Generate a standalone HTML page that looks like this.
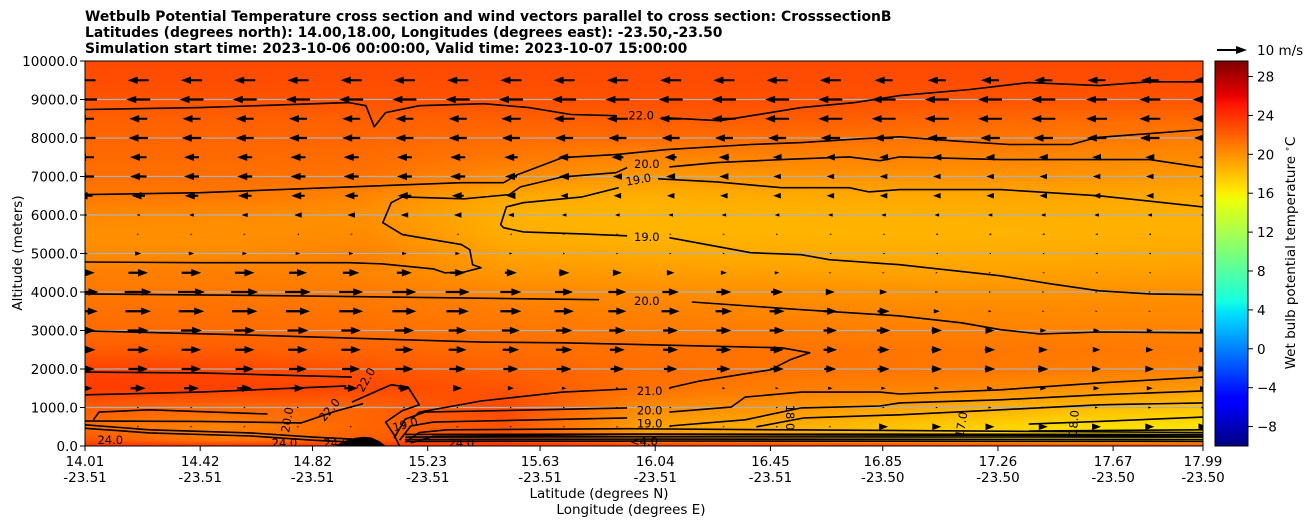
<!DOCTYPE html>
<html><head><meta charset="utf-8"><style>
html,body{margin:0;padding:0;background:#fff;}
#wrap{position:relative;width:1311px;height:526px;overflow:hidden;font-family:"DejaVu Sans","Liberation Sans",sans-serif;}
#field{position:absolute;left:85px;top:61px;}
#cbar{position:absolute;left:1215px;top:61px;}
svg{position:absolute;left:0;top:0;font-family:"DejaVu Sans","Liberation Sans",sans-serif;}
</style></head><body>
<div id="wrap">
<canvas id="field" width="1118" height="385"></canvas>
<canvas id="cbar" width="33" height="385"></canvas>
<svg id="svg" width="1311" height="526" xmlns="http://www.w3.org/2000/svg">
<defs><clipPath id="plotclip"><rect x="85" y="61" width="1118" height="385"/></clipPath></defs>
<g font-weight="bold" font-size="13.9" fill="#000">
<text x="85" y="21">Wetbulb Potential Temperature cross section and wind vectors parallel to cross section: CrosssectionB</text>
<text x="85" y="37">Latitudes (degrees north): 14.00,18.00, Longitudes (degrees east): -23.50,-23.50</text>
<text x="85" y="53">Simulation start time: 2023-10-06 00:00:00, Valid time: 2023-10-07 15:00:00</text>
</g>
<g id="grid"></g>
<g id="contours" clip-path="url(#plotclip)"></g>
<g id="arrows" clip-path="url(#plotclip)"></g>
<rect x="85" y="61" width="1118" height="385" fill="none" stroke="#000" stroke-width="1"/>
<g id="axes" font-size="13.5" fill="#000"></g>
<text x="599" y="498" font-size="13.5" text-anchor="middle">Latitude (degrees N)</text>
<text x="631" y="514" font-size="13.5" text-anchor="middle">Longitude (degrees E)</text>
<text transform="translate(22,253) rotate(-90)" font-size="13.5" text-anchor="middle">Altitude (meters)</text>
<rect x="1215" y="61" width="33" height="385" fill="none" stroke="#000" stroke-width="1"/>
<g id="cbticks" font-size="13.5"></g>
<text transform="translate(1295,253) rotate(-90)" font-size="13.5" text-anchor="middle">Wet bulb potential temperature <tspan dy="-5" font-size="9">∘</tspan><tspan dy="5">C</tspan></text>
<g>
<polygon points="1217,49 1236,49 1236,46 1247,50 1236,54 1236,51 1217,51" fill="#000"/>
<text x="1257" y="55" font-size="13.5">10 m/s</text>
</g>
</svg>
</div>
<script>
// ---- data ----
const fieldLats = [14.0,14.5,15.0,15.5,16.0,16.5,17.0,17.5,18.0];
const fieldAlts = [0,150,500,1000,1500,2000,2500,3000,3500,4000,4500,5000,5500,6000,6500,7000,7500,8000,8500,9000,9500,10000];
const fieldT = [
[24,24,24,24,24,24,24,24,24],
[22.5,21,22,23,20,19.5,18,17,16.8],
[21.4,20.5,21.8,22.6,19.2,18.7,17.6,16.8,16.5],
[22.2,21.6,21.8,23.0,20.2,19.8,19.0,18.3,17.8],
[23.5,23.3,23.0,22.5,21.3,20.8,20.5,20.0,19.6],
[23.3,23.0,22.5,21.9,21.4,21.2,21.1,20.9,20.6],
[22.2,22.1,21.8,21.5,21.3,21.2,21.1,21.0,20.9],
[21.6,21.6,21.4,21.1,20.9,20.8,20.7,20.6,20.6],
[21.3,21.3,21.1,20.8,20.6,20.4,20.3,20.3,20.3],
[21.0,21.0,20.9,20.4,20.1,20.0,19.9,19.9,20.0],
[20.7,20.7,20.5,19.7,19.5,19.3,19.2,19.3,19.4],
[20.2,20.2,20.6,19.2,18.9,18.8,18.8,18.9,19.0],
[20.0,20.0,20.2,18.8,18.5,18.5,18.5,18.6,18.7],
[20.3,20.2,20.0,18.6,18.4,18.5,18.6,18.7,18.6],
[21.0,21.0,20.5,19.0,18.7,18.9,19.0,19.1,19.0],
[21.4,21.4,21.2,20.2,19.6,19.8,19.9,19.8,19.6],
[21.6,21.6,21.5,21.0,20.4,20.5,20.6,20.4,20.2],
[21.8,21.8,21.8,21.5,21.5,21.4,21.2,21.0,20.8],
[22.0,22.0,22.0,22.0,22.2,22.2,21.8,21.6,21.6],
[22.5,22.5,22.6,22.6,22.7,22.7,22.6,22.5,22.5],
[22.8,22.8,22.8,22.8,22.8,22.8,22.8,22.8,22.8],
[22.9,22.9,22.9,22.9,22.9,22.9,22.9,22.9,22.9]];
const windAlts = [500,1000,1500,2000,2500,3000,3500,4000,4500,5000,5500,6000,6500,7000,7500,8000,8500,9000,9500];
const windU = [
[0.3,0.3,0.3,0.3,0.3,0.3,0.3,0.3,0.3,0.3,0.3,0.3,0.3,0.3,0.3,3,3,3,3,3,3,3],
[0.5,0.5,0.5,0.5,0.5,0.5,0.5,0.5,0.3,0.3,0.3,0.3,0.3,0.3,0.5,0.5,0.5,1,1,1,1,1],
[5,5,5,5,4.5,4.5,4,3,2,1.5,1,1,1,1,1.5,1.5,1.5,2,2,2,2,2],
[6.5,6.5,6.5,6,6,6,6,5.5,5,5,4.5,4.5,4.5,4.5,4,4,3.5,3.5,3.5,3,3,3],
[7,7,6.5,6.5,6.5,6.5,6,6,5.5,5.5,5,5,5,4.5,4.5,4,3.5,3.5,3,2.5,2.5,2.5],
[7,7,7,7,7,6.5,6.5,6,6,5.5,5.5,5,5,5,4.5,4.5,3.5,3,2,2,2,2],
[8.5,8.5,8.5,8.5,8,8,8,7.5,7,6.5,6,6,5.5,5,4.5,4,2,1,0.5,0.5,0.5,0.5],
[9,9,9,9,8.5,8,8,8,7,6,6,5.5,5,4,3,2.5,1,0.5,0.5,0.3,0.3,0.3],
[6.5,6.5,6.5,6.5,6,5.5,5,5,4,3.5,3,2.5,2,1.5,0.5,0.5,0.3,0.3,-0.3,-0.3,-0.3,-0.3],
[2,2,1.8,1.5,1.5,1.5,1.5,1.5,1,0.5,0.5,0.3,0.3,0.3,-0.3,-0.3,-0.3,-0.5,-0.5,-0.8,-0.8,-0.8],
[0.5,0.5,0.3,0,-0.3,-0.3,-0.3,-0.3,-0.3,0.2,0.2,0.2,0.2,0.2,-0.3,-0.5,-0.8,-0.8,-0.8,-0.8,-0.8,-0.8],
[-1,-1,-1.5,-2,-2.5,-2.5,-2.5,-2.5,-2,-1.5,-1.5,-1.5,-1.5,-1.5,-1.5,-1.5,-1.5,-1.5,-1.5,-1.5,-1.5,-1.5],
[-5,-4.5,-4.5,-4.5,-4.5,-4.5,-4.5,-4,-3,-2.5,-2.5,-2.5,-2.5,-2.5,-2.5,-2.5,-2.5,-2.5,-2.5,-2.5,-2.5,-2.5],
[-6,-5.5,-5,-5,-5,-5,-5,-5,-4,-3.5,-3,-3,-3,-2.5,-2.5,-2.5,-2.5,-2.5,-2.5,-2.5,-2.5,-2.5],
[-6,-5.5,-5,-5,-5,-5,-5,-5,-4.5,-4,-4,-4,-3.5,-3,-3,-3,-3,-3,-3,-3,-3,-3],
[-7,-6.5,-6.5,-6,-6,-6,-6,-6,-6,-6,-6,-6,-6,-6,-6.5,-6.5,-6.5,-6.5,-6.5,-6.5,-6.5,-6],
[-6,-6,-6,-6,-6,-6,-6,-6,-6.5,-7,-7,-7.5,-8,-8,-8,-8,-8,-8,-8,-7,-7,-7],
[-8,-8,-8,-8,-8,-8,-8,-8,-8,-8,-8,-8,-8,-8,-8,-8,-8,-8,-8,-7,-7,-7],
[-7,-7,-7,-7,-7,-7,-7,-7,-7,-7,-7,-7,-7,-7,-7,-6,-6,-6,-6,-6,-6,-6]];
const contourLines = [
[[14.01,8740],[14.42,8790],[14.95,8920],[15.01,8840],[15.04,8290],[15.08,8660],[15.20,8840],[15.43,8890],[15.59,8790],[15.74,8610],[15.90,8580]],
[[16.06,8530],[16.27,8450],[16.56,8790],[16.75,8920],[16.91,9100],[17.16,9260],[17.37,9440],[17.62,9360],[17.80,9460],[17.99,9460]],
[[14.01,6530],[14.42,6580],[14.95,6730],[15.35,6840],[15.50,6840],[15.55,7050],[15.71,7490],[15.90,7570],[16.08,7700],[16.38,7830],[16.56,7880],[16.77,7980],[16.91,8030],[17.09,7930],[17.30,7830],[17.52,7830],[17.61,8010],[17.99,8220]],
[[14.01,4780],[14.42,4760],[14.95,4760],[15.07,4730],[15.25,4600],[15.29,4500],[15.36,4520],[15.42,4630],[15.39,4710],[15.38,5100],[15.35,5230],[15.14,5490],[15.07,5800],[15.10,6320],[15.14,6470],[15.36,6420],[15.52,6530],[15.56,6730],[15.71,6990],[15.90,7100],[15.94,7230]],
[[16.09,7250],[16.26,7360],[16.49,7440],[16.73,7510],[16.84,7410],[16.91,7510],[17.27,7440],[17.62,7440],[17.80,7440],[17.99,7230]],
[[15.91,6710],[15.78,6470],[15.57,6320],[15.51,6210],[15.49,5750],[15.50,5670],[15.57,5560],[15.78,5510],[15.94,5460]],
[[16.05,6940],[16.26,6860],[16.49,6710],[16.73,6710],[16.80,6600],[16.91,6660],[17.27,6660],[17.62,6500],[17.99,6210]],
[[16.09,5410],[16.38,5020],[16.56,4970],[16.66,4840],[16.91,4710],[17.27,4420],[17.45,4210],[17.62,4030],[17.80,3950],[17.99,3930]],
[[14.01,3950],[14.78,3900],[15.84,3800]],
[[16.17,3740],[16.56,3540],[16.91,3380],[17.13,3200],[17.27,3020],[17.41,2910],[17.62,2960],[17.99,2940]],
[[14.01,2990],[14.55,2890],[15.42,2700],[15.71,2680],[16.20,2600],[16.49,2550],[16.59,2420],[16.52,2240],[16.45,1980],[16.20,1690],[16.09,1510]],
[[15.94,1480],[15.71,1400],[15.42,1170],[15.20,880],[15.17,680]],
[[15.11,200],[15.15,700],[15.22,880],[15.42,910],[15.94,990]],
[[16.09,880],[16.31,1010],[16.36,1270],[16.56,1400],[16.84,1400],[16.91,1350],[17.27,1460],[17.62,1640],[17.99,1790]],
[[15.13,150],[15.17,520],[15.25,620],[15.42,650],[15.94,730]],
[[16.09,520],[16.36,680],[16.56,990],[16.84,1040],[16.91,1120],[17.27,1200],[17.62,1330],[17.99,1430]],
[[16.40,500],[16.57,730],[16.91,810],[17.27,940],[17.62,1070],[17.99,1120]],
[[17.37,570],[17.62,640],[17.99,750]],
[[17.37,390],[17.99,420]],
[[14.01,1920],[14.42,1900],[14.96,1790]],
[[14.01,1330],[14.42,1400],[14.94,1560]],
[[14.96,1140],[15.04,1400],[15.10,1590],[15.16,1530],[15.20,1070],[15.14,920],[15.08,620],[15.11,290],[15.13,0]],
[[14.04,680],[14.06,880],[14.24,940],[14.66,830]],
[[14.01,550],[14.24,420],[14.60,340],[14.82,230],[14.96,180]],
[[14.01,460],[14.24,340],[14.60,260],[14.82,150],[14.96,100]],
[[14.01,650],[14.42,640],[14.78,600],[14.90,900],[15.00,1100]],
[[15.15,100],[15.20,350],[15.30,420],[15.94,450],[16.5,420],[17.99,350]],
[[15.17,80],[15.25,250],[15.94,300],[17.99,260]],
[[15.15,300],[16.0,310],[17.99,300]],
[[15.15,230],[16.0,240],[17.99,230]],
[[15.15,170],[16.0,180],[17.99,170]],
[[15.15,120],[16.0,130],[17.99,120]]];
const contourLabels = [
[15.99,8580,"22.0",0],[16.01,7330,"20.0",0],[15.98,6920,"19.0",-10],[16.01,5430,"19.0",0],
[16.01,3770,"20.0",0],[16.02,1430,"21.0",0],[16.02,920,"20.0",0],[16.02,590,"19.0",0],
[15.01,1720,"22.0",-60],[14.88,940,"22.0",-50],[14.73,680,"20.0",-80],[15.15,560,"19.0",-15],
[16.52,740,"18.0",90],[17.13,560,"17.0",-80],[17.53,600,"18.0",-85],
[14.10,150,"24.0",0],[14.72,80,"24.0",0],[14.95,80,"24.024.0",0],[15.35,80,"24.0",0],[16.0,120,"<4.0",0]];
const terrainLats = [14.90,14.93,14.97,15.00,15.03,15.06,15.08];
const terrainAlts = [0,120,210,240,220,120,0];
const xTickLats = [14.01,14.42,14.82,15.23,15.63,16.04,16.45,16.85,17.26,17.67,17.99];
const xTickLons = ["-23.51","-23.51","-23.51","-23.51","-23.51","-23.51","-23.51","-23.50","-23.50","-23.50","-23.50"];
const yTicks = [0,1000,2000,3000,4000,5000,6000,7000,8000,9000,10000];
const cbTicks = [-8,-4,0,4,8,12,16,20,24,28];
// ---- scales ----
const X0=85,X1=1203,Y0=446,Y1=61, LAT0=14.01, LAT1=17.99, ALT1=10000;
const VMIN=-10, VMAX=29.6;
function xs(lat){return X0+(lat-LAT0)/(LAT1-LAT0)*(X1-X0);}
function ys(alt){return Y0-alt/ALT1*(Y0-Y1);}
function seg(pts,t){for(let i=0;i<pts.length-1;i++){if(t<=pts[i+1][0]){const f=(t-pts[i][0])/(pts[i+1][0]-pts[i][0]);return pts[i][1]+f*(pts[i+1][1]-pts[i][1]);}}return pts[pts.length-1][1];}
const JR=[[0,0],[0.35,0],[0.66,1],[0.89,1],[1,0.5]],JG=[[0,0],[0.125,0],[0.375,1],[0.64,1],[0.91,0],[1,0]],JB=[[0,0.5],[0.11,1],[0.34,1],[0.65,0],[1,0]];
function jet(v){let t=(v-VMIN)/(VMAX-VMIN);t=Math.max(0,Math.min(1,t));return [seg(JR,t)*255,seg(JG,t)*255,seg(JB,t)*255];}
function idx(arr,v){let i=0;while(i<arr.length-2&&v>arr[i+1])i++;let f=(v-arr[i])/(arr[i+1]-arr[i]);return [i,Math.max(0,Math.min(1,f))];}
function fieldAt(lat,alt){const [i,fi]=idx(fieldAlts,alt),[j,fj]=idx(fieldLats,lat);
 const a=fieldT[i][j],b=fieldT[i][j+1],c=fieldT[i+1][j],d=fieldT[i+1][j+1];
 return (a*(1-fj)+b*fj)*(1-fi)+(c*(1-fj)+d*fj)*fi;}
// ---- field ----
(function(){const cv=document.getElementById('field'),ctx=cv.getContext('2d');const im=ctx.createImageData(1118,385);
for(let py=0;py<385;py++){const alt=(Y0-(Y1+py+0.5))/(Y0-Y1)*ALT1;
 for(let px=0;px<1118;px++){const lat=LAT0+(px+0.5)/1118*(LAT1-LAT0);const c=jet(fieldAt(lat,alt));const k=(py*1118+px)*4;
  im.data[k]=c[0];im.data[k+1]=c[1];im.data[k+2]=c[2];im.data[k+3]=255;}}
ctx.putImageData(im,0,0);
const cb=document.getElementById('cbar'),cc=cb.getContext('2d');
for(let py=0;py<385;py++){const v=VMAX-(py+0.5)/385*(VMAX-VMIN);const c=jet(v);cc.fillStyle='rgb('+c.map(Math.round).join(',')+')';cc.fillRect(0,py,33,1);}
})();
const NS='http://www.w3.org/2000/svg';
function mk(tag,attrs,parent){const e=document.createElementNS(NS,tag);for(const k in attrs)e.setAttribute(k,attrs[k]);parent.appendChild(e);return e;}
// grid
const grid=document.getElementById('grid');
yTicks.forEach(v=>{if(v>0&&v<ALT1){const l=mk('line',{x1:X0,x2:X1,y1:ys(v),y2:ys(v),stroke:'#b0b0b0','stroke-width':1.2},grid);

}});
// contours
const cg=document.getElementById('contours');
contourLines.forEach(pts=>{const p=mk('polyline',{points:pts.map(q=>xs(q[0]).toFixed(1)+','+ys(q[1]).toFixed(1)).join(' '),fill:'none',stroke:'#000','stroke-width':1.6,'stroke-linejoin':'round'},cg);

});
const ter=mk('polygon',{points:terrainLats.map((l,i)=>xs(l).toFixed(1)+','+ys(terrainAlts[i]).toFixed(1)).join(' '),fill:'#000'},cg);


contourLabels.forEach(L=>{const x=xs(L[0]),y=ys(L[1]);const t=mk('text',{x:x,y:y+4,'font-size':11.5,'text-anchor':'middle',fill:'#000',transform:'rotate('+L[3]+' '+x+' '+y+')'},cg);t.textContent=L[2];

});
// arrows
const ag=document.getElementById('arrows');const PXPER=3;
windAlts.forEach((alt,r)=>{windU[r].forEach((u,k)=>{const lat=LAT0+k*(LAT1-LAT0)/21;const cx=xs(lat),cy=ys(alt);
 let L=Math.abs(u)*PXPER;let w=2.2,hl=10,hw=7.5,s=1;
 if(L<hl){s=Math.max(L,2)/hl;}
 w*=s;hl*=s;hw*=s;const sh=Math.max(0,L-hl);const tot=sh+hl;const d=u>=0?1:-1;
 const x0=cx-d*tot/2;const xh=x0+d*sh;const xt=x0+d*tot;
 const pts=[[x0,cy-w/2],[xh,cy-w/2],[xh,cy-hw/2],[xt,cy],[xh,cy+hw/2],[xh,cy+w/2],[x0,cy+w/2]];
 const p=mk('polygon',{points:pts.map(q=>q[0].toFixed(1)+','+q[1].toFixed(1)).join(' '),fill:'#000'},ag);
 
 });});
// axes
const ax=document.getElementById('axes');
xTickLats.forEach((lat,i)=>{const x=xs(lat);mk('line',{x1:x,x2:x,y1:Y0,y2:Y0+5,stroke:'#000'},ax);
 const t=mk('text',{x:x,y:466,'text-anchor':'middle'},ax);t.textContent=lat.toFixed(2);
 
 
 const t2=mk('text',{x:x,y:482,'text-anchor':'middle'},ax);t2.textContent=xTickLons[i];
 
 });
yTicks.forEach(v=>{const y=ys(v);mk('line',{x1:X0-5,x2:X0,y1:y,y2:y,stroke:'#000'},ax);
 const t=mk('text',{x:X0-7,y:y+5,'text-anchor':'end'},ax);t.textContent=v.toFixed(1);
 
 });
const cbt=document.getElementById('cbticks');
cbTicks.forEach(v=>{const y=Y0-(v-VMIN)/(VMAX-VMIN)*(Y0-Y1);mk('line',{x1:1248,x2:1253,y1:y,y2:y,stroke:'#000'},cbt);
 const t=mk('text',{x:1257,y:y+5},cbt);t.textContent=v<0?'\u2212'+Math.abs(v):String(v);
 
 });
</script>
</body></html>
